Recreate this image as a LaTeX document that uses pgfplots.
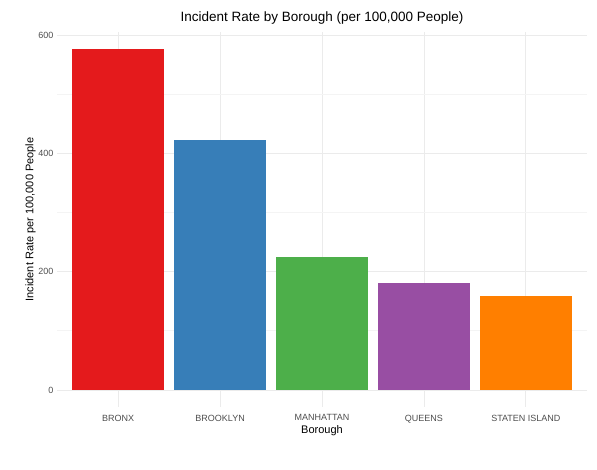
\documentclass[border=0pt]{standalone}
\usepackage{pgfplots}
\pgfplotsset{compat=1.18}
\usepackage{fontspec}
\setmainfont{Liberation Sans}
\definecolor{c1}{HTML}{E41A1C}
\definecolor{c2}{HTML}{377EB8}
\definecolor{c3}{HTML}{4DAF4A}
\definecolor{c4}{HTML}{984EA3}
\definecolor{c5}{HTML}{FF7F00}
\definecolor{gmaj}{HTML}{EBEBEB}
\definecolor{gmin}{HTML}{F4F4F4}
\definecolor{tk}{HTML}{4D4D4D}
\begin{document}
\begin{tikzpicture}[x=1pt,y=1pt]
\begin{axis}[
  at={(57pt,63pt)}, anchor=south west,
  scale only axis, width=530pt, height=375pt,
  xmin=0.4, xmax=5.6, ymin=-28.8, ymax=605,
  ybar, bar width=0.9, bar shift=0pt,
  axis line style={draw=none}, tick style={draw=none},
  xtick={1,2,3,4,5},
  xticklabels={BRONX,BROOKLYN,MANHATTAN,QUEENS,STATEN ISLAND},
  ytick={0,200,400,600}, minor ytick={100,300,500},
  grid=both, major grid style={gmaj,line width=0.8pt}, minor grid style={gmin,line width=0.6pt},
  ticklabel style={font=\fontsize{9}{10}\selectfont, text=tk},
  /pgf/number format/assume math mode=true,
  xlabel={Borough}, ylabel={Incident Rate per 100,000 People},
  label style={font=\fontsize{11}{12}\selectfont},
  xlabel style={yshift=4pt},
  ylabel style={yshift=-4pt},
  title={Incident Rate by Borough (per 100,000 People)},
  title style={font=\fontsize{13.5}{15}\selectfont, yshift=-2pt},
]
\addplot[fill=c1, draw=none] coordinates {(1,576)};
\addplot[fill=c2, draw=none] coordinates {(2,422)};
\addplot[fill=c3, draw=none] coordinates {(3,224)};
\addplot[fill=c4, draw=none] coordinates {(4,181)};
\addplot[fill=c5, draw=none] coordinates {(5,158)};
\end{axis}
\pgfresetboundingbox
\path (0pt,0pt) rectangle (597pt,470pt);
\end{tikzpicture}
\end{document}
